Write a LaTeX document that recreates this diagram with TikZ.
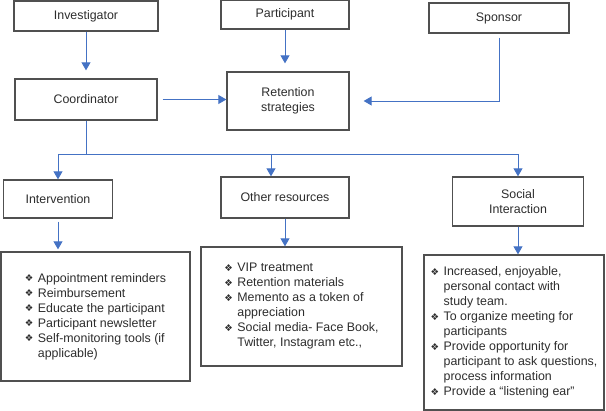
\documentclass[tikz,border=0pt]{standalone}
\usepackage{fontspec}
\setmainfont{Liberation Sans}
\newfontfamily\dingFont{DejaVu Sans}
\usetikzlibrary{arrows.meta}
\definecolor{boxGray}{RGB}{80,80,80}
\definecolor{arrowBlue}{RGB}{68,114,196}
\definecolor{textGray}{RGB}{45,45,45}
\newcommand{\bulletItem}{\makebox[13pt][l]{\raisebox{0.3pt}{\dingFont\fontsize{9.5}{9.5}\selectfont ❖}}}
\newcommand{\contLine}{\hspace*{13pt}}

\begin{document}
\begin{tikzpicture}[x=1pt,y=-1pt,
    font=\fontsize{12.4}{15}\selectfont, text=textGray,
    boxNode/.style={draw=boxGray,line width=1.3pt,fill=white,align=center,inner sep=0pt},
    listNode/.style={boxNode,align=left},
    arrowLine/.style={draw=arrowBlue,line width=0.9pt,-{Triangle[width=9pt,length=8pt]}},
    busLine/.style={draw=arrowBlue,line width=0.9pt}]
  \useasboundingbox (0,0) rectangle (606,411);
  % top row
  \node[boxNode,minimum width=144pt,minimum height=30pt] (inv) at (86,16) {Investigator};
  \node[boxNode,minimum width=128pt,minimum height=29pt] (part) at (285,14.5) {Participant};
  \node[boxNode,minimum width=140pt,minimum height=30pt] (spon) at (499,18) {Sponsor};
  % middle row
  \node[boxNode,minimum width=142pt,minimum height=41pt] (coord) at (86,99.5) {Coordinator};
  \node[boxNode,minimum width=122pt,minimum height=58pt] (ret) at (288,101) {Retention\\strategies};
  % branches
  \node[boxNode,minimum width=109pt,minimum height=38pt] (intv) at (58,199) {Intervention};
  \node[boxNode,minimum width=128pt,minimum height=41pt] (oth) at (285,197.5) {Other resources};
  \node[boxNode,minimum width=131pt,minimum height=49pt] (soc) at (518,201.5) {Social\\Interaction};
  % lists
  \node[listNode,minimum width=189pt,minimum height=129pt] (list1) at (95.5,316.5) {%
    \bulletItem Appointment reminders\\
    \bulletItem Reimbursement\\
    \bulletItem Educate the participant\\
    \bulletItem Participant newsletter\\
    \bulletItem Self-monitoring tools (if\\
    \contLine applicable)};
  \node[listNode,minimum width=201pt,minimum height=119pt] (list2) at (301.5,306.5) {%
    \bulletItem VIP treatment\\
    \bulletItem Retention materials\\
    \bulletItem Memento as a token of\\
    \contLine appreciation\\
    \bulletItem Social media- Face Book,\\
    \contLine Twitter, Instagram etc.,};
  \node[listNode,minimum width=180pt,minimum height=155pt] (list3) at (514,332.5) {%
    \bulletItem Increased, enjoyable,\\
    \contLine personal contact with\\
    \contLine study team.\\
    \bulletItem To organize meeting for\\
    \contLine participants\\
    \bulletItem Provide opportunity for\\
    \contLine participant to ask questions,\\
    \contLine process information\\
    \bulletItem Provide a “listening ear”};
  % connectors
  \draw[arrowLine,shorten >=8pt] (inv.south) -- (coord.north);
  \draw[arrowLine,shorten >=8pt] (part.south) -- (part.south |- ret.north);
  \draw[arrowLine,shorten <=5pt] (coord.east) -- (coord.east -| ret.west);
  \draw[arrowLine,shorten <=4pt,shorten >=14pt] (spon.south) |- (ret.east);
  \coordinate (busY) at (0,154);
  \coordinate (othIn) at ([xshift=-14pt]oth.north);
  \coordinate (busL) at (intv.north |- busY);
  \coordinate (busM) at (othIn |- busY);
  \coordinate (busR) at (soc.north |- busY);
  \draw[busLine] (coord.south) -- (coord.south |- busY);
  \draw[busLine] (busL) -- (busR);
  \draw[arrowLine] (busL) -- (intv.north);
  \draw[arrowLine] (busM) -- (othIn);
  \draw[arrowLine] (busR) -- (soc.north);
  \draw[arrowLine,shorten <=3pt,shorten >=2pt] (intv.south) -- (intv.south |- list1.north);
  \draw[arrowLine] (oth.south) -- (oth.south |- list2.north);
  \draw[arrowLine] (soc.south) -- (soc.south |- list3.north);
\end{tikzpicture}
\end{document}
